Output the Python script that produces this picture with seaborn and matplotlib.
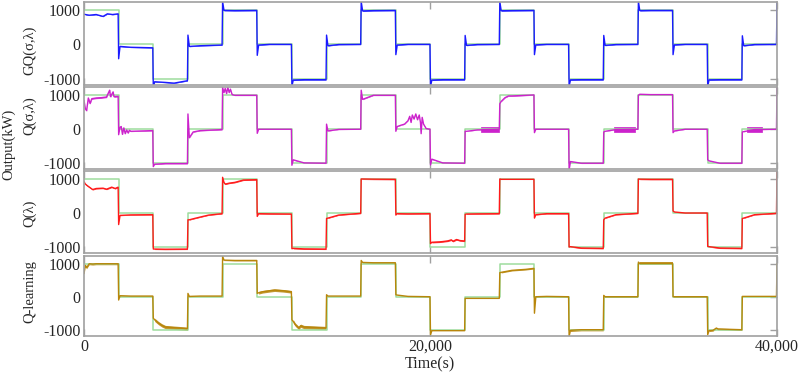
"""Vergleich der Regelantworten (GQ, Q(σ,λ), Q(λ), Q-learning) gegen den Sollwert."""
import matplotlib
matplotlib.use("Agg")
import matplotlib.pyplot as plt
import numpy as np
import pandas as pd
import seaborn as sns

# Sollwert: Rechteckfolge, Wechsel alle 2000 s
step_times = list(range(0, 40001, 2000))
target = [1000, 0, -1000, 0] * 5

# GQ(σ,λ) -- Werte je Abschnitt: Spitze beim Sprung, Anfang, Mitte, Ende
gq_spike = [880, -420, -1250, 270, 1250, -320, -1220, 270, 1250, -300, -1220, 260, 1250, -300, -1220, 260, 1250, -300, -1220, 250]
gq_start = [870, -60, -1090, -60, 990, -20, -1040, -40, 975, -20, -1040, -30, 980, -15, -1035, -30, 985, -15, -1035, -40]
gq_mid = [870, -85, -1110, -40, 985, 0, -1030, -5, 985, 0, -1030, -5, 985, 0, -1030, -5, 990, 0, -1030, -5]
gq_end = [890, -100, -1060, -20, 990, 0, -1030, 0, 990, 0, -1030, 0, 990, 0, -1030, 0, 990, 0, -1030, 0]
gq_extra = [(300, 850), (1100, 815), (1350, 890), (1650, 870), (5200, -1130)]
gq_noise = [10, 10, 10, 10, 15, 10, 15, 10, 15, 10, 15, 10, 15, 10, 15, 10, 15, 10, 15, 10]
gq_last = 1230

# Q(σ,λ)
qsl_spike = [850, -160, -1100, 450, 1230, -120, -1060, 150, 1150, -60, -1050, -60, 750, -100, -1200, -80, 1000, -100, -900, -80]
qsl_start = [600, 60, -1030, -250, 1080, 0, -900, -50, 880, 80, -880, -60, 820, 0, -950, -60, 1030, -50, -930, -70]
qsl_mid = [920, -60, -1010, -40, 1000, 0, -990, -5, 1000, 250, -990, -20, 980, 0, -1000, -10, 1020, 0, -1000, -10]
qsl_end = [970, -40, -1010, -10, 1000, 0, -1000, 0, 1000, 0, -1000, 0, 1010, 0, -1000, 0, 1020, 0, -1000, 0]
qsl_extra = [(150, 550), (250, 920), (350, 760), (450, 900), (1000, 930), (1300, 950), (1480, 1150),
             (1530, 960), (1680, 1100), (1730, 960),
             (2150, 80), (2220, -150), (2300, 40), (2380, -130), (2460, -20), (2550, -110), (2620, -30),
             (6300, -80),
             (8150, 1200), (8230, 1050), (8300, 1230), (8380, 1080), (8450, 1180), (8550, 1020),
             (18300, 120), (18500, 150), (18800, 380), (18880, 200), (18950, 420), (19050, 300), (19150, 450),
             (19250, 280), (19350, 420), (19420, 200), (19460, -130), (19520, 350), (19600, 150), (19750, 20),
             (24300, 930), (24500, 980)]
qsl_noise = [20, 10, 10, 10, 10, 5, 10, 5, 10, 5, 10, 5, 10, 5, 10, 5, 10, 5, 10, 5]
qsl_bursts = [(22900, 23950, 80), (30620, 31780, 70), (38250, 39150, 80)]
qsl_last = 1230

# Q(λ)
ql_spike = [920, -340, -1060, -200, 1050, -100, -1050, -160, 1000, -60, -900, -40, 1000, -150, -1000, -200, 1000, 60, -980, -160]
ql_start = [850, -70, -1060, -200, 900, -20, -1040, -150, 1000, -20, -860, -30, 990, -50, -990, -150, 995, 30, -990, -150]
ql_mid = [720, -55, -1065, -120, 900, -25, -1055, -60, 995, -25, -840, -25, 990, -20, -1030, -50, 990, 0, -1030, -50]
ql_end = [760, -50, -1060, -20, 980, -30, -1060, -10, 990, -20, -830, -20, 990, -20, -1040, -10, 990, 0, -1040, -10]
ql_extra = [(200, 800), (500, 690), (1100, 730), (1300, 700), (1600, 760), (1800, 720),
            (6300, -170), (7200, -60),
            (8150, 850), (8400, 880), (9200, 970),
            (20500, -850), (21000, -820), (21200, -790), (21300, -830), (21500, -780), (21700, -810), (21900, -820)]
ql_noise = [15, 10, 15, 10, 15, 10, 15, 10, 15, 10, 20, 10, 15, 10, 15, 10, 15, 10, 15, 10]
ql_last = 1230

# Q-learning
qlearn_spike = [700, -100, -650, 100, 1230, 100, -700, 60, 1100, 60, -1150, -50, 730, -500, -1200, 40, 1050, 0, -1150, 10]
qlearn_start = [950, 30, -700, 10, 1110, 120, -750, 20, 1040, 50, -1030, -50, 740, 0, -1020, 0, 1010, 0, -1030, 10]
qlearn_mid = [1000, 20, -920, 20, 1100, 180, -920, 20, 1030, 10, -1030, -50, 800, 10, -1000, 0, 1010, 0, -980, 10]
qlearn_end = [1000, 20, -970, 20, 1100, 150, -950, 20, 1030, 0, -1030, -50, 860, 0, -1000, 0, 1010, 0, -1000, 10]
qlearn_extra = [(150, 880), (300, 1000), (500, 990), (4300, -800), (4500, -870),
                (10300, 150), (11000, 200), (11500, 180), (12200, -850), (12400, -950), (12500, -880),
                (25500, 830), (36300, -1020), (36500, -950), (36600, -980)]
qlearn_noise = [30, 15, 50, 10, 15, 40, 50, 10, 20, 10, 15, 10, 20, 20, 35, 35, 45, 30, 25, 15]
qlearn_last = 1000

panel_labels = ["GQ(σ,λ)", "Q(σ,λ)", "Q(λ)", "Q-learning"]
colors = ["#1a1aff", "#cc22cc", "#ff1a1a", "#b8860b"]
ref_color = "#9edc9e"
grey = "#a0a0a0"


def build_series(spike, start, mid, end, extra, last):
    pts = []
    for i in range(len(spike)):
        t0 = step_times[i]
        pts += [(t0, spike[i]), (t0 + 80, start[i]), (t0 + 700, mid[i]), (t0 + 1970, end[i])]
    pts += extra
    pts.append((step_times[-1], last))
    df = pd.DataFrame(pts, columns=["t", "y"]).sort_values("t").drop_duplicates("t")
    return df.reset_index(drop=True)


series = [
    (build_series(gq_spike, gq_start, gq_mid, gq_end, gq_extra, gq_last), gq_noise, []),
    (build_series(qsl_spike, qsl_start, qsl_mid, qsl_end, qsl_extra, qsl_last), qsl_noise, qsl_bursts),
    (build_series(ql_spike, ql_start, ql_mid, ql_end, ql_extra, ql_last), ql_noise, []),
    (build_series(qlearn_spike, qlearn_start, qlearn_mid, qlearn_end, qlearn_extra, qlearn_last), qlearn_noise, []),
]

sns.set_theme(style="white")
plt.rcParams["font.family"] = ["Liberation Serif", "DejaVu Serif"]

W, H = 803, 375
fig = plt.figure(figsize=(W / 100, H / 100), dpi=100)

# Panelgrenzen in Pixeln (oben, unten)
panel_px = [(2, 85), (87.3, 169.5), (171, 253.3), (256, 335.8)]
left_px, right_px = 84, 777

ref_df = pd.DataFrame({"t": step_times, "y": target + [target[-1]]})

for k, ((df, noise, bursts), (top, bot)) in enumerate(zip(series, panel_px)):
    ax = fig.add_axes([left_px / W, 1 - bot / H, (right_px - left_px) / W, (bot - top) / H])
    sns.lineplot(data=ref_df, x="t", y="y", ax=ax, color=ref_color, lw=1.1,
                 drawstyle="steps-post", estimator=None, sort=False)
    # Rauschband je Abschnitt um die Kurve
    for i, amp in enumerate(noise):
        t0 = step_times[i]
        seg = df[(df.t >= t0 + 80) & (df.t <= t0 + 1970)]
        ax.fill_between(seg.t, seg.y - amp, seg.y + amp, color=colors[k], lw=0, alpha=0.85)
    # Schwingungspakete (Q(σ,λ)) als Hüllband
    for b0, b1, amp in bursts:
        ax.fill_between([b0, b1], [-amp, -amp], [amp, amp], facecolor=colors[k],
                        edgecolor=colors[k], lw=0.5)
    sns.lineplot(data=df, x="t", y="y", ax=ax, color=colors[k], lw=1.0,
                 estimator=None, sort=False)

    ax.set_xlim(0, 40000)
    ax.set_ylim(-1185, 1235)
    ax.set_yticks([-1000, 0, 1000])
    ax.set_yticklabels(["-1000", "0", "1000"])
    ax.set_xticks([0, 20000, 40000])
    ax.set_xlabel("")
    ax.set_ylabel("")
    ax.tick_params(axis="y", left=False, right=True, labelleft=True, labelright=False,
                   direction="in", length=5, width=1, color=grey, pad=2.5, labelsize=11.5)
    ax.tick_params(axis="x", top=True, bottom=True, direction="in", length=5, width=1,
                   color=grey, labelsize=11.5, pad=2)
    if k < 3:
        ax.set_xticklabels([])
    else:
        ax.set_xticklabels(["0", "20,000", "40,000"])
    for sp in ax.spines.values():
        sp.set_color(grey)
        sp.set_linewidth(1.2)

    fig.text(30 / W, 1 - [50, 116, 213, 292][k] / H, panel_labels[k], rotation=90,
             ha="center", va="center", fontsize=10.5)

fig.text(9 / W, 1 - 144 / H, "Output(kW)", rotation=90, ha="center", va="center", fontsize=10.5)
fig.text(430 / W, 1 - 364 / H, "Time(s)", ha="center", va="center", fontsize=11.5)

fig.savefig("out.png", dpi=100)
